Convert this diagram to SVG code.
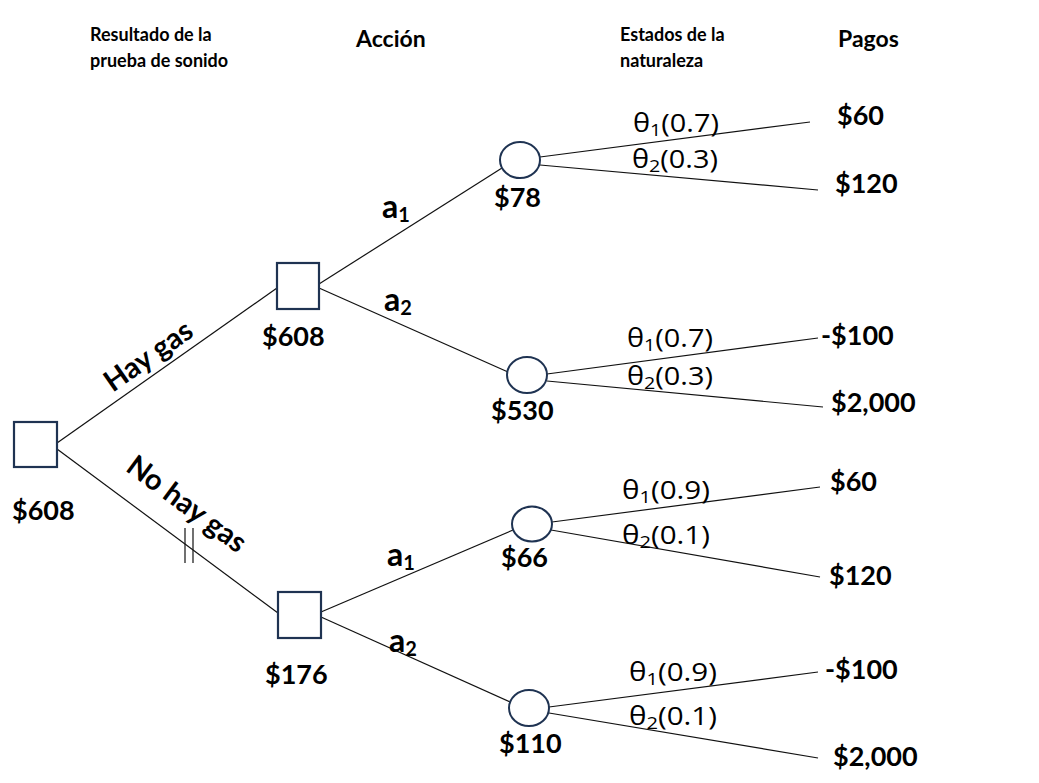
<svg xmlns="http://www.w3.org/2000/svg" width="1039" height="783" viewBox="0 0 1039 783">
<style>
.dn{fill:#fff;stroke:#1f3352;stroke-width:2.2}
.cn{fill:#fff;stroke:#1f3352;stroke-width:2}
.ln{stroke:#111;stroke-width:1.2;fill:none}
.hd{font-family:Lato,"Open Sans",sans-serif;font-weight:bold;fill:#000}
.h1{font-size:18px}
.h2{font-size:23px}
.v{font-family:Lato,"Open Sans",sans-serif;font-weight:bold;font-size:27px;fill:#000}
.r{font-size:29px}
.a{font-family:Lato,"Open Sans",sans-serif;font-weight:bold;font-size:32px;fill:#000}
.sub{font-size:20px}
.th{font-family:"Open Sans",Lato,sans-serif;font-size:25px;fill:#000}
.ths{font-size:17px}
</style>
<rect width="1039" height="783" fill="#fff"/>
<g id="headers">
<text class="hd h1" x="90" y="41">Resultado de la</text>
<text class="hd h1" x="90" y="67">prueba de sonido</text>
<text class="hd h2" x="356" y="47">Acción</text>
<text class="hd h1" x="620" y="41">Estados de la</text>
<text class="hd h1" x="620" y="67">naturaleza</text>
<text class="hd h2" x="838" y="47">Pagos</text>
</g>
<g id="connectors">
<line class="ln" x1="57" y1="443" x2="277" y2="288"/>
<line class="ln" x1="57" y1="449" x2="278" y2="613"/>
<line class="ln" x1="185" y1="528" x2="185" y2="563"/>
<line class="ln" x1="193" y1="528" x2="193" y2="563"/>
<line class="ln" x1="319" y1="284" x2="502" y2="168"/>
<line class="ln" x1="319" y1="288" x2="508" y2="372"/>
<line class="ln" x1="321" y1="612" x2="513" y2="530"/>
<line class="ln" x1="321" y1="617" x2="510" y2="702"/>
<line class="ln" x1="540" y1="157" x2="810" y2="122"/>
<line class="ln" x1="540" y1="165" x2="818" y2="190"/>
<line class="ln" x1="547" y1="374" x2="818" y2="338"/>
<line class="ln" x1="547" y1="381" x2="823" y2="407"/>
<line class="ln" x1="552" y1="522" x2="820" y2="487"/>
<line class="ln" x1="551" y1="530" x2="820" y2="577"/>
<line class="ln" x1="549" y1="707" x2="818" y2="672"/>
<line class="ln" x1="549" y1="713" x2="818" y2="758"/>
<text class="v r" transform="translate(154,364) rotate(-35)" text-anchor="middle">Hay gas</text>
<text class="v r" transform="translate(181,512) rotate(36.6)" text-anchor="middle">No hay gas</text>
<text class="a" x="382" y="218">a<tspan class="sub" dy="4">1</tspan></text>
<text class="a" x="384" y="311">a<tspan class="sub" dy="4">2</tspan></text>
<text class="a" x="387" y="566">a<tspan class="sub" dy="4">1</tspan></text>
<text class="a" x="389" y="652">a<tspan class="sub" dy="4">2</tspan></text>
<text class="th" x="633" y="132" textLength="86" lengthAdjust="spacingAndGlyphs">θ<tspan class="ths" dy="4">1</tspan><tspan dy="-4">(0.7)</tspan></text>
<text class="th" x="632" y="168" textLength="86" lengthAdjust="spacingAndGlyphs">θ<tspan class="ths" dy="4">2</tspan><tspan dy="-4">(0.3)</tspan></text>
<text class="th" x="627" y="347" textLength="86" lengthAdjust="spacingAndGlyphs">θ<tspan class="ths" dy="4">1</tspan><tspan dy="-4">(0.7)</tspan></text>
<text class="th" x="627" y="385" textLength="86" lengthAdjust="spacingAndGlyphs">θ<tspan class="ths" dy="4">2</tspan><tspan dy="-4">(0.3)</tspan></text>
<text class="th" x="622" y="499" textLength="88" lengthAdjust="spacingAndGlyphs">θ<tspan class="ths" dy="4">1</tspan><tspan dy="-4">(0.9)</tspan></text>
<text class="th" x="622" y="544" textLength="88" lengthAdjust="spacingAndGlyphs">θ<tspan class="ths" dy="4">2</tspan><tspan dy="-4">(0.1)</tspan></text>
<text class="th" x="629" y="681" textLength="88" lengthAdjust="spacingAndGlyphs">θ<tspan class="ths" dy="4">1</tspan><tspan dy="-4">(0.9)</tspan></text>
<text class="th" x="629" y="725" textLength="88" lengthAdjust="spacingAndGlyphs">θ<tspan class="ths" dy="4">2</tspan><tspan dy="-4">(0.1)</tspan></text>
</g>
<g id="root"><rect class="dn" x="14" y="422" width="43" height="45"/><text class="v" x="12" y="520">$608</text></g>
<g id="hay-gas"><rect class="dn" x="277" y="263" width="42" height="46"/><text class="v" x="262" y="346">$608</text></g>
<g id="no-hay-gas"><rect class="dn" x="278" y="592" width="43" height="46"/><text class="v" x="265" y="684">$176</text></g>
<g id="c1"><ellipse class="cn" cx="520" cy="160" rx="20" ry="18"/><text class="v" x="494" y="207">$78</text></g>
<g id="c2"><ellipse class="cn" cx="527" cy="375" rx="20" ry="18"/><text class="v" x="491" y="420">$530</text></g>
<g id="c3"><ellipse class="cn" cx="532" cy="524" rx="20" ry="17.5"/><text class="v" x="501" y="567">$66</text></g>
<g id="c4"><ellipse class="cn" cx="529" cy="708" rx="20" ry="18"/><text class="v" x="499" y="753">$110</text></g>
<g id="payoffs">
<text class="v" x="837" y="125">$60</text>
<text class="v" x="835" y="193">$120</text>
<text class="v" x="821" y="345">-$100</text>
<text class="v" x="831" y="412">$2,000</text>
<text class="v" x="830" y="491">$60</text>
<text class="v" x="829" y="585">$120</text>
<text class="v" x="825" y="679">-$100</text>
<text class="v" x="833" y="766">$2,000</text>
</g>
</svg>
